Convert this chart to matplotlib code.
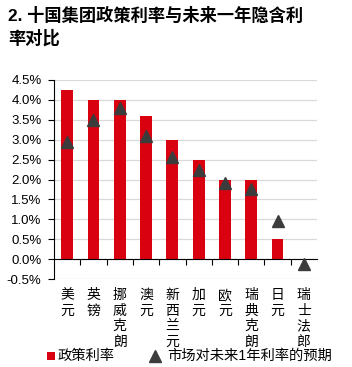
import matplotlib
matplotlib.use("Agg")
import matplotlib.pyplot as plt
from matplotlib.lines import Line2D
from matplotlib.patches import Rectangle
import matplotlib.transforms as mtransforms

plt.rcParams['font.family'] = ['Liberation Sans', 'Noto Sans CJK SC', 'DejaVu Sans']

categories = ["美元", "英镑", "挪威克朗", "澳元", "新西兰元", "加元", "欧元", "瑞典克朗", "日元", "瑞士法郎"]
policy_rate = [4.25, 4.0, 4.0, 3.6, 3.0, 2.5, 2.0, 2.0, 0.5, 0.0]
expected_rate = [2.94, 3.49, 3.80, 3.09, 2.56, 2.25, 1.92, 1.77, 0.95, -0.13]
yticks = [-0.5, 0.0, 0.5, 1.0, 1.5, 2.0, 2.5, 3.0, 3.5, 4.0, 4.5]
title = "2. 十国集团政策利率与未来一年隐含利\n率对比"
legend_labels = ["政策利率", "市场对未来1年利率的预期"]

RED = "#D9000F"
GRAY = "#3C3C3C"

W, H = 352, 367
fig = plt.figure(figsize=(W / 100, H / 100), dpi=100)
ax = fig.add_axes([54 / W, (H - 279) / H, 263 / W, 199 / H])

x = list(range(len(categories)))
ax.bar(x, policy_rate, width=0.45, color=RED, zorder=2)
ax.plot(x, expected_rate, linestyle='none', marker='^', markersize=9,
        color=GRAY, zorder=3)

ax.set_xlim(-0.5, len(categories) - 0.5)
ax.set_ylim(-0.5, 4.5)
ax.set_yticks(yticks)
ax.set_yticklabels([f"{v:.1f}%" for v in yticks], fontsize=9.5)
ax.yaxis.grid(True, color="#D9D9D9", linewidth=0.9, zorder=0)
ax.set_axisbelow(True)

for s in ['top', 'right']:
    ax.spines[s].set_visible(False)
ax.spines['bottom'].set_position(('data', 0))
ax.spines['left'].set_color('black')
ax.spines['bottom'].set_color('black')
ax.tick_params(axis='y', direction='out', length=4, width=0.8, pad=5)
ax.set_xticks([i + 0.5 for i in x[:-1]])
ax.set_xticklabels([])
ax.tick_params(axis='x', direction='out', length=4, width=0.8)

trans = mtransforms.blended_transform_factory(ax.transData, fig.transFigure)
for i, name in enumerate(categories):
    ax.text(i, (H - 288) / H, "\n".join(name), transform=trans, ha='center', va='top',
            fontsize=10, linespacing=1.15, color='black')

fig.text(8 / W, 1 - 7 / H, title, ha='left', va='top', fontsize=12.4,
         fontweight='bold', linespacing=1.33)

# legend (manual layout)
fig.patches.append(Rectangle((47 / W, 1 - 360 / H), 8 / W, 8 / H, transform=fig.transFigure,
                             facecolor=RED, edgecolor='none'))
fig.text(58 / W, 1 - 356 / H, legend_labels[0], ha='left', va='center', fontsize=10.3)
fig.add_artist(Line2D([155 / W], [1 - 356 / H], transform=fig.transFigure, linestyle='none',
                      marker='^', markersize=8, color=GRAY))
fig.text(167 / W, 1 - 356 / H, legend_labels[1], ha='left', va='center', fontsize=10.3)

fig.savefig("out.png", dpi=100)
